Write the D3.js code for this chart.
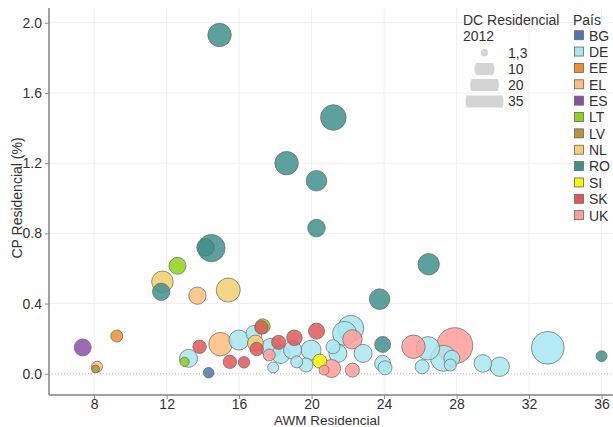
<!DOCTYPE html>
<html><head><meta charset="utf-8">
<script src="https://cdn.jsdelivr.net/npm/d3@7"></script>
<style>body{margin:0;background:#fff;font-family:"Liberation Sans",Arial,sans-serif;}</style>
</head><body><svg id="c" width="613" height="427"></svg>
<script>
const legendCountries = ["BG","DE","EE","EL","ES","LT","LV","NL","RO","SI","SK","UK"];
const legendColors = ["#4e79a7","#a8e6f0","#f28e2b","#ffbe7d","#8c4fa6","#8fd11a","#b5943a","#f1cf6e","#3f918c","#f5f500","#e15759","#ff9d9a"];
const sizeLegendValues = [1.3, 10, 20, 35];
const sizeLegendLabels = ["1,3","10","20","35"];
const xTicks = [8,12,16,20,24,28,32,36];
const yTicks = [0.0,0.4,0.8,1.2,1.6,2.0];

const pointCountry = [
 "BG",
 "DE","DE","DE","DE","DE","DE","DE","DE","DE","DE","DE","DE","DE","DE","DE","DE","DE","DE","DE","DE","DE","DE","DE","DE","DE",
 "EE",
 "EL","EL","EL",
 "ES",
 "LT","LT","LT",
 "LV",
 "NL","NL","NL",
 "RO","RO","RO","RO","RO","RO","RO","RO","RO","RO","RO","RO",
 "SI",
 "SK","SK","SK","SK","SK","SK","SK","SK",
 "UK","UK","UK","UK","UK","UK","UK"
];
const awmValues = [
 14.32,
 13.21,15.99,16.82,17.75,18.3,17.88,18.95,19.18,19.69,19.97,21.18,21.45,21.82,22.16,22.84,23.92,24.05,26.1,26.42,27.28,27.74,27.65,29.45,30.38,33.03,
 9.25,
 13.7,14.97,8.16,
 7.37,
 12.6,12.99,17.3,
 8.08,
 11.77,15.4,16.9,
 14.92,21.2,18.62,20.27,20.27,14.47,14.14,26.46,23.75,11.7,23.92,36.0,
 20.45,
 13.82,15.49,16.27,16.97,17.23,18.18,19.05,20.27,
 22.25,21.1,20.69,22.25,25.62,27.9,17.66
];
const cpValues = [
 0.006,
 0.088,0.192,0.23,0.145,0.11,0.036,0.135,0.068,0.05,0.135,0.154,0.116,0.23,0.259,0.116,0.059,0.034,0.04,0.145,0.088,0.088,0.05,0.059,0.04,0.148,
 0.215,
 0.445,0.169,0.04,
 0.15,
 0.615,0.068,0.27,
 0.027,
 0.524,0.477,0.175,
 1.93,1.46,1.20,1.10,0.83,0.716,0.72,0.624,0.425,0.467,0.167,0.10,
 0.072,
 0.154,0.068,0.065,0.141,0.264,0.179,0.205,0.243,
 0.196,0.03,0.021,0.021,0.154,0.16,0.107
];
const dcValues = [
 2.7,
 7.9,9.7,6.2,9.7,7.9,2.9,7.9,3.5,4.8,9.7,4.8,7.9,14,16.4,7.9,6.2,4.8,4.8,13.3,16.4,6.2,3.5,7.5,9.1,26.1,
 3.5,
 7.3,13.3,2.9,
 7.0,
 7.0,2.1,5.5,
 1.55,
 11.3,14,6.2,
 13.3,15.9,13.3,10.3,7.5,18.2,7.3,11.1,10.3,7.3,6.2,2.9,
 4.8,
 4.4,4.4,3.2,4.4,4.4,4.8,5.9,6.2,
 9.1,7.9,2.4,4.8,13.3,31.4,3.5
];

const svg = d3.select("#c");
const pLeft = 49, pRight = 613, pTop = 8, pBottom = 395;
const x = d3.scaleLinear().domain([5.51, 36.63]).range([pLeft, pRight]);
const y = d3.scaleLinear().domain([-0.121, 2.084]).range([pBottom, pTop]);
const r = d3.scaleSqrt().domain([0, 35]).range([0, 19]);
const color = d3.scaleOrdinal().domain(legendCountries).range(legendColors);
const FONT = '"Liberation Sans",Arial,sans-serif';

// grid
const grid = svg.append("g");
grid.selectAll("line.v").data(xTicks).join("line")
  .attr("x1", d => x(d)).attr("x2", d => x(d)).attr("y1", pTop).attr("y2", pBottom)
  .attr("stroke", "#f0f0f0").attr("stroke-width", 1);
grid.selectAll("line.h").data(yTicks.filter(d => d !== 0)).join("line")
  .attr("x1", pLeft).attr("x2", pRight).attr("y1", d => y(d)).attr("y2", d => y(d))
  .attr("stroke", "#f0f0f0").attr("stroke-width", 1);
grid.append("line").attr("x1", pLeft).attr("x2", pRight).attr("y1", y(0)).attr("y2", y(0))
  .attr("stroke", "#bbb").attr("stroke-width", 1).attr("stroke-dasharray", "1,2");

// points
const pts = pointCountry.map((c, i) => ({c, ax: awmValues[i], cp: cpValues[i], dc: dcValues[i]}))
  .sort((a, b) => b.dc - a.dc);
svg.append("g").selectAll("circle").data(pts).join("circle")
  .attr("cx", d => x(d.ax)).attr("cy", d => y(d.cp)).attr("r", d => r(d.dc))
  .attr("fill", d => color(d.c)).attr("fill-opacity", 0.85)
  .attr("stroke", "#666").attr("stroke-opacity", 0.7).attr("stroke-width", 1);

// axes
const xAxis = svg.append("g").attr("transform", `translate(0,${pBottom})`)
  .call(d3.axisBottom(x).tickValues(xTicks).tickSize(4).tickFormat(d3.format("d")));
const yAxis = svg.append("g").attr("transform", `translate(${pLeft},0)`)
  .call(d3.axisLeft(y).tickValues(yTicks).tickSize(4).tickFormat(d3.format(".1f")));
[xAxis, yAxis].forEach(a => {
  a.select(".domain").attr("stroke", "#a0a0a0").attr("stroke-width", 2);
  a.selectAll(".tick line").attr("stroke", "#888");
  a.selectAll(".tick text").attr("fill", "#333").style("font-size", "14px").style("font-family", FONT);
});
yAxis.select(".domain").attr("d", `M0,${pTop}V${pBottom}`);
xAxis.select(".domain").attr("d", `M${pLeft},0H${pRight}`);
xAxis.selectAll(".tick text").attr("y", 4).attr("dy", "0.71em");

svg.append("text").attr("x", 327).attr("y", 424.5).attr("text-anchor", "middle")
  .attr("fill", "#333").style("font-size", "13.5px").style("font-family", FONT).text("AWM Residencial");
svg.append("text").attr("transform", "translate(22,198) rotate(-90)").attr("text-anchor", "middle")
  .attr("fill", "#333").style("font-size", "14px").style("font-family", FONT).text("CP Residencial (%)");

// size legend
const sl = svg.append("g").style("font-family", FONT);
sl.append("text").attr("x", 463).attr("y", 25).attr("fill", "#333").style("font-size", "14px").text("DC Residencial");
sl.append("text").attr("x", 463).attr("y", 41).attr("fill", "#333").style("font-size", "14px").text("2012");
const rowsY = [52.7, 69, 85, 101.5];
const defs = svg.append("defs");
sizeLegendValues.forEach((v, i) => {
  const cid = "clip" + i;
  defs.append("clipPath").attr("id", cid).append("rect")
    .attr("x", 440).attr("y", rowsY[i] - 6).attr("width", 70).attr("height", 12);
  sl.append("circle").attr("cx", 484.5).attr("cy", rowsY[i]).attr("r", r(v))
    .attr("fill", "#d4d4d4").attr("clip-path", `url(#${cid})`);
  sl.append("text").attr("x", 508).attr("y", rowsY[i]).attr("dy", "0.35em")
    .attr("fill", "#333").style("font-size", "14px").text(sizeLegendLabels[i]);
});

// color legend
const cl = svg.append("g").style("font-family", FONT);
cl.append("text").attr("x", 573).attr("y", 25).attr("fill", "#333").style("font-size", "14px").text("País");
legendCountries.forEach((c, i) => {
  const yy = 35.7 + i * 16.36;
  cl.append("rect").attr("x", 574.5).attr("y", yy - 5).attr("width", 9).attr("height", 9)
    .attr("fill", color(c)).attr("stroke", "#666").attr("stroke-width", 0.8);
  cl.append("text").attr("x", 589).attr("y", yy).attr("dy", "0.35em")
    .attr("fill", "#333").style("font-size", "14px").text(c);
});
</script></body></html>
